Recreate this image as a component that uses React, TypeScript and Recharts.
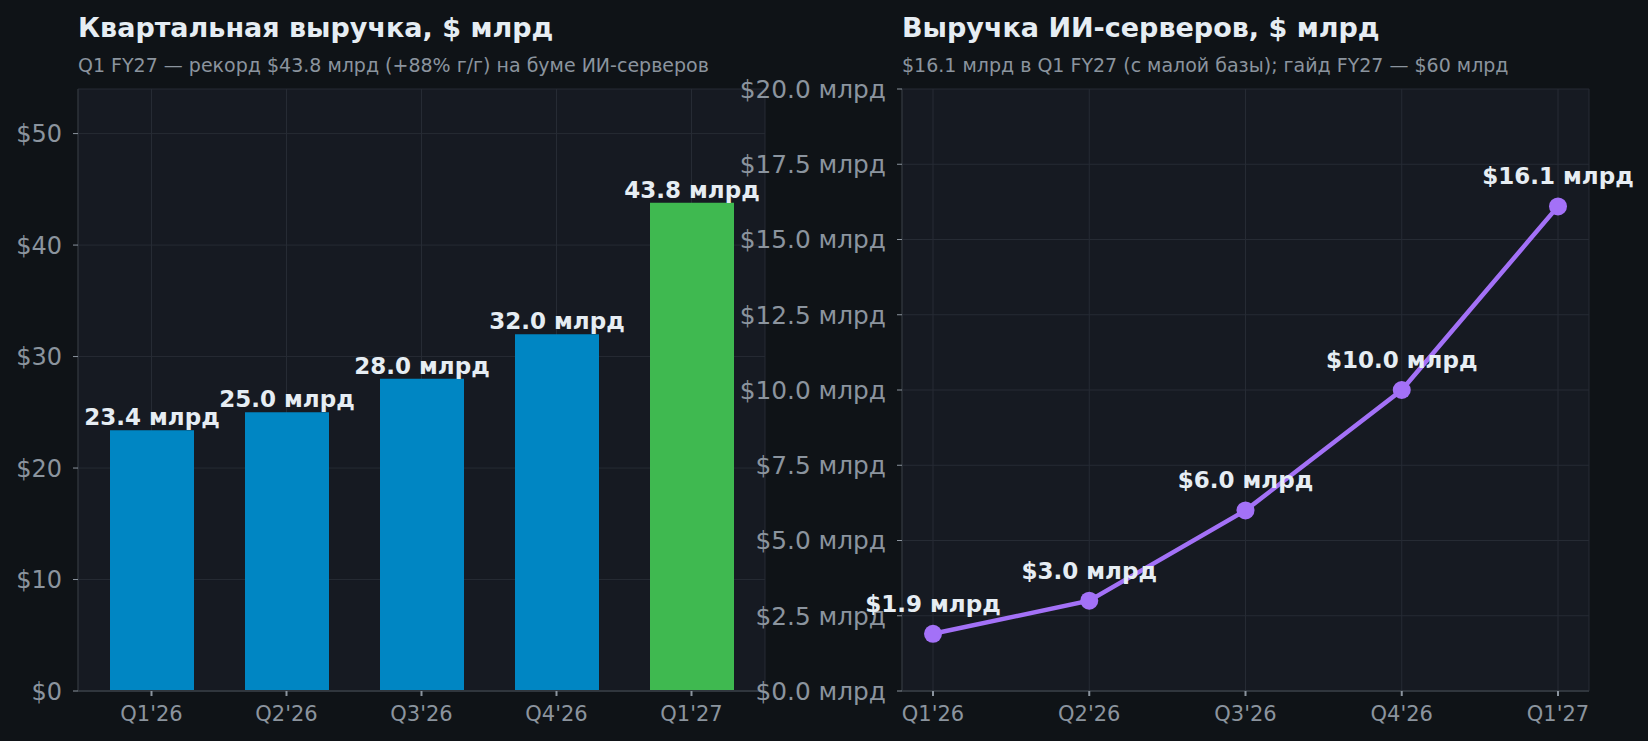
import React from "react";
import {
  BarChart,
  Bar,
  LineChart,
  Line,
  XAxis,
  YAxis,
  CartesianGrid,
  LabelList,
  Cell,
} from "recharts";

const quarters = ["Q1'26", "Q2'26", "Q3'26", "Q4'26", "Q1'27"];
const revenue = [23.4, 25.0, 28.0, 32.0, 43.8];
const aiServers = [1.9, 3.0, 6.0, 10.0, 16.1];
const revenueTicks = [0, 10, 20, 30, 40, 50];
const aiTicks = [0, 2.5, 5, 7.5, 10, 12.5, 15, 17.5, 20];

const FONT = "'DejaVu Sans', sans-serif";
const PAGE_BG = "#0f1317";
const PLOT_BG = "#161a22";
const GRID = "#262b34";
const AXIS = "#30363d";
const TICK = "#8b949e";
const TEXT = "#e6edf3";
const BLUE = "#0086c3";
const GREEN = "#3fb950";
const PURPLE = "#a371f7";

const revenueData = quarters.map((q, i) => ({ q, value: revenue[i] }));
const aiData = quarters.map((q, i) => ({ q, value: aiServers[i] }));

const xTickStyle = { fill: TICK, fontSize: 21, fontFamily: FONT };

const Title: React.FC<{ left: number; title: string; subtitle: string }> = ({ left, title, subtitle }) => (
  <>
    <div
      style={{
        position: "absolute",
        left,
        top: 14,
        fontFamily: FONT,
        fontWeight: "bold",
        fontSize: 27,
        lineHeight: "27px",
        color: TEXT,
        whiteSpace: "nowrap",
      }}
    >
      {title}
    </div>
    <div
      style={{
        position: "absolute",
        left,
        top: 56,
        fontFamily: FONT,
        fontSize: 19,
        lineHeight: "19px",
        color: TICK,
        whiteSpace: "nowrap",
      }}
    >
      {subtitle}
    </div>
  </>
);

const makeYTick = (fmt: (v: number) => string, size: number) => (props: any) => {
  const { x, y, payload } = props;
  return (
    <text
      x={x}
      y={y}
      dy="0.355em"
      textAnchor="end"
      fill={TICK}
      fontFamily={FONT}
      fontSize={size}
    >
      {fmt(payload.value)}
    </text>
  );
};

const BarTopLabel = (props: any) => {
  const { x, y, width, value } = props;
  return (
    <text
      x={x + width / 2}
      y={y - 5}
      textAnchor="middle"
      fill={TEXT}
      fontFamily={FONT}
      fontWeight="bold"
      fontSize={23}
    >
      {`${Number(value).toFixed(1)} млрд`}
    </text>
  );
};

const PointLabel = (props: any) => {
  const { x, y, value } = props;
  return (
    <text
      x={x}
      y={y - 22}
      textAnchor="middle"
      fill={TEXT}
      fontFamily={FONT}
      fontWeight="bold"
      fontSize={23}
    >
      {`$${Number(value).toFixed(1)} млрд`}
    </text>
  );
};

export default function App() {
  return (
    <div
      style={{
        position: "absolute",
        left: 0,
        top: 0,
        width: 1648,
        height: 741,
        background: PAGE_BG,
        overflow: "hidden",
      }}
    >
      <Title
        left={78}
        title="Квартальная выручка, $ млрд"
        subtitle="Q1 FY27 — рекорд $43.8 млрд (+88% г/г) на буме ИИ-серверов"
      />
      <Title
        left={902}
        title="Выручка ИИ-серверов, $ млрд"
        subtitle="$16.1 млрд в Q1 FY27 (с малой базы); гайд FY27 — $60 млрд"
      />

      <div style={{ position: "absolute", left: 0, top: 0 }}>
        <BarChart
          width={824}
          height={741}
          data={revenueData}
          margin={{ top: 89, right: 59, bottom: 0, left: 0 }}
        >
          <CartesianGrid stroke={GRID} fill={PLOT_BG} strokeWidth={1} />
          <XAxis
            dataKey="q"
            height={50}
            padding={{ left: 6, right: 6 }}
            tick={xTickStyle}
            tickSize={5}
            tickMargin={10}
            stroke={AXIS}
            tickLine={{ stroke: TICK }}
            strokeWidth={2}
          />
          <YAxis
            width={78}
            domain={[0, 54]}
            ticks={revenueTicks}
            tick={makeYTick((v) => `$${v}`, 24)}
            tickSize={5}
            tickMargin={11}
            stroke={AXIS}
            tickLine={{ stroke: TICK }}
            strokeWidth={1}
          />
          <Bar dataKey="value" barSize={84} isAnimationActive={false}>
            {revenueData.map((d) => (
              <Cell key={d.q} fill={d.q === "Q1'27" ? GREEN : BLUE} />
            ))}
            <LabelList dataKey="value" content={BarTopLabel} />
          </Bar>
        </BarChart>
      </div>

      <div style={{ position: "absolute", left: 700, top: 0 }}>
        <LineChart
          width={948}
          height={741}
          data={aiData}
          margin={{ top: 89, right: 59, bottom: 0, left: 0 }}
        >
          <CartesianGrid stroke={GRID} fill={PLOT_BG} strokeWidth={1} />
          <XAxis
            dataKey="q"
            height={50}
            padding={{ left: 31, right: 31 }}
            tick={xTickStyle}
            tickSize={5}
            tickMargin={10}
            stroke={AXIS}
            tickLine={{ stroke: TICK }}
            strokeWidth={2}
          />
          <YAxis
            width={202}
            domain={[0, 20]}
            ticks={aiTicks}
            interval={0}
            tick={makeYTick((v) => `$${v.toFixed(1)} млрд`, 24.8)}
            tickSize={5}
            tickMargin={11}
            stroke={AXIS}
            tickLine={{ stroke: TICK }}
            strokeWidth={1}
          />
          <Line
            type="linear"
            dataKey="value"
            stroke={PURPLE}
            strokeWidth={4.5}
            dot={{ r: 9, fill: PURPLE, stroke: PURPLE, strokeWidth: 0 }}
            isAnimationActive={false}
          >
            <LabelList dataKey="value" content={PointLabel} />
          </Line>
        </LineChart>
      </div>
    </div>
  );
}
